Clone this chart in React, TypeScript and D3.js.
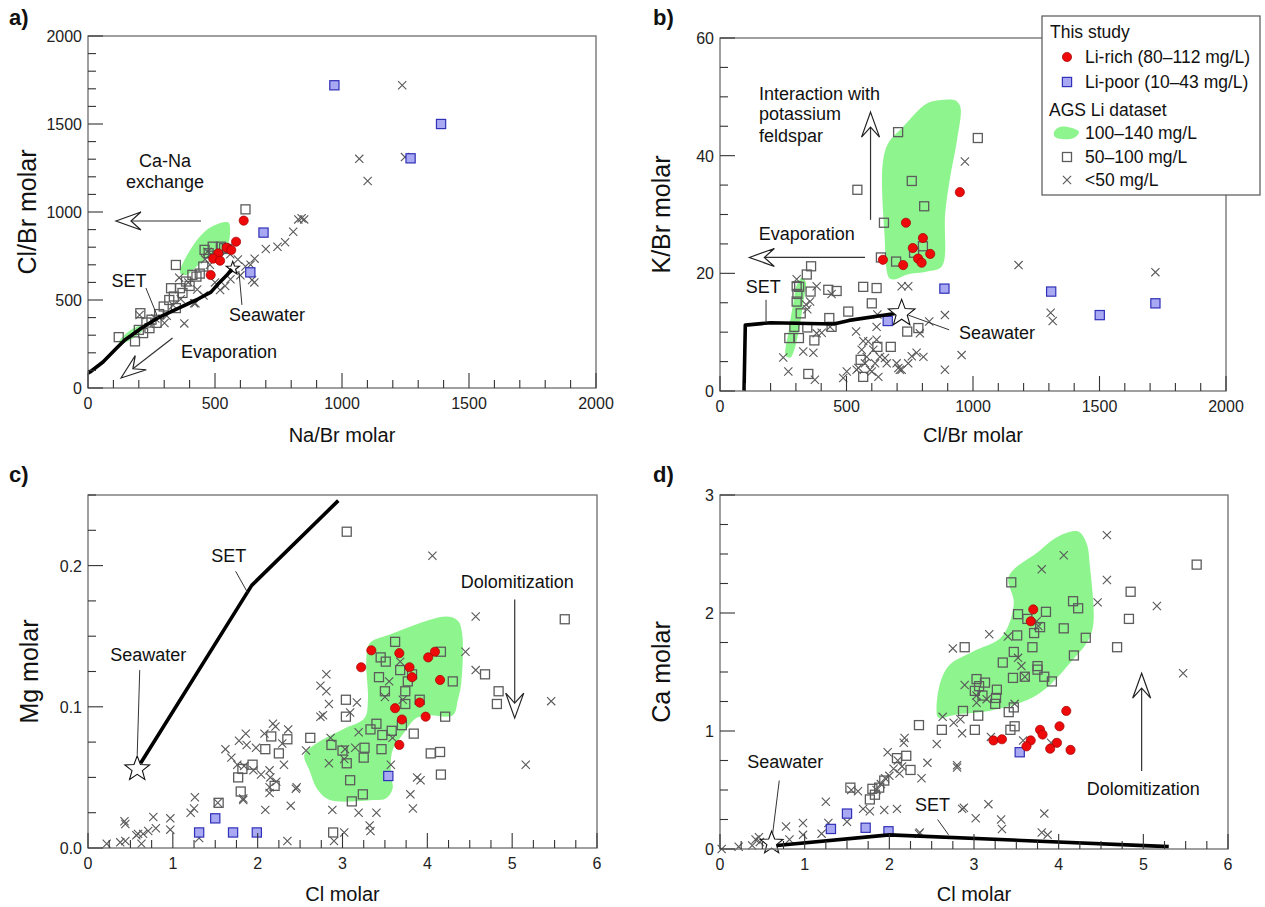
import * as d3 from 'd3';

type P = [number, number];

const FONT = '"Liberation Sans", Arial, Helvetica, sans-serif';
const GREEN = '#8ef58e';

// ---------- a) Na/Br vs Cl/Br (molar)
const aLiRich: P[] = [[613, 951], [583, 831], [546, 797], [564, 784], [513, 765], [493, 735], [520, 723], [483, 642]];
const aLiPoor: P[] = [[970, 1720], [1390, 1500], [1270, 1305], [691, 883], [639, 657]];
const aMid: P[] = [[620, 1015], [346, 699], [454, 690], [523, 803], [536, 794], [547, 790], [411, 643], [386, 605], [427, 633], [327, 567], [362, 567], [338, 520], [298, 463], [346, 454], [206, 425], [250, 388], [242, 340], [217, 312], [185, 265], [121, 289], [459, 785], [475, 766], [491, 803], [440, 650], [400, 580], [372, 540], [320, 500], [280, 420], [230, 372], [200, 330], [270, 370]];
const aLow: P[] = [[1237, 1720], [1068, 1302], [1248, 1312], [1101, 1176], [828, 958], [841, 964], [851, 958], [808, 888], [776, 828], [746, 803], [700, 790], [656, 735], [646, 614], [655, 600], [561, 618], [520, 557], [540, 580], [418, 481], [379, 367], [301, 369], [203, 415], [470, 774], [461, 731], [485, 760], [359, 627], [395, 600], [423, 482], [455, 525], [500, 600], [600, 640], [620, 690], [640, 700], [590, 730], [310, 410], [265, 395], [335, 470], [365, 505], [430, 560], [480, 700], [520, 740], [560, 760]];
const aBlobs: P[][] = [
  [[363, 653], [395, 767], [467, 898], [539, 943], [555, 938], [551, 812], [523, 767], [475, 744], [426, 688], [387, 642]],
  [[121, 261], [168, 330], [209, 352], [215, 330], [185, 290], [137, 256]],
];
const aSET: P[] = [[0, 85], [8, 91], [59, 148], [113, 227], [145, 273], [211, 341], [281, 403], [359, 455], [426, 500], [484, 545], [516, 597], [547, 642], [566, 676]];
const aSeawater: P = [570, 680];

// ---------- b) Cl/Br vs K/Br (molar)
const bLiRich: P[] = [[948, 33.8], [735, 28.6], [802, 26.0], [762, 24.3], [831, 23.3], [644, 22.3], [783, 22.5], [797, 21.8], [724, 21.4]];
const bLiPoor: P[] = [[887, 17.4], [1309, 16.9], [1721, 14.9], [1501, 12.9], [663, 11.9]];
const bMid: P[] = [[704, 44.0], [1019, 43.0], [543, 34.2], [758, 35.7], [807, 31.4], [648, 28.6], [636, 22.7], [696, 22.0], [802, 24.6], [767, 23.5], [360, 21.2], [343, 19.8], [303, 17.8], [313, 17.7], [306, 16.5], [358, 16.9], [428, 17.2], [461, 17.0], [566, 17.7], [619, 17.5], [600, 14.9], [507, 13.5], [432, 12.4], [303, 15.2], [319, 13.2], [294, 10.9], [345, 10.8], [441, 10.9], [274, 9.0], [312, 9.0], [373, 8.6], [740, 10.1], [784, 10.7], [622, 7.5], [675, 7.5], [556, 5.3], [566, 2.4], [349, 2.9]];
const bLow: P[] = [[968, 39.0], [1180, 21.4], [1721, 20.2], [1307, 13.3], [1315, 11.9], [889, 12.9], [955, 6.1], [889, 3.6], [382, 17.8], [441, 16.5], [303, 19.0], [356, 15.2], [345, 13.9], [340, 14.7], [718, 17.8], [744, 17.8], [827, 11.8], [790, 9.8], [538, 10.1], [402, 9.9], [382, 9.8], [435, 10.9], [619, 10.9], [622, 13.0], [250, 5.7], [270, 3.3], [329, 6.7], [369, 6.5], [375, 1.9], [487, 2.2], [501, 3.3], [560, 7.0], [573, 4.7], [593, 3.6], [613, 4.7], [632, 5.8], [659, 4.7], [606, 7.0], [586, 8.4], [619, 8.7], [626, 2.4], [540, 3.6], [547, 3.9], [580, 5.8], [600, 3.3], [652, 5.6], [698, 4.7], [711, 3.6], [718, 3.6], [705, 3.9], [744, 4.7], [758, 5.9], [777, 6.5], [804, 5.8], [566, 8.5]];
const bBlobs: P[][] = [
  [[260, 6.0], [272, 10.3], [290, 15.0], [305, 18.2], [325, 19.3], [340, 18.4], [330, 15.2], [315, 11.0], [295, 7.2], [278, 5.7]],
  [[669, 19.2], [650, 26.8], [643, 38.6], [665, 42.1], [724, 44.9], [819, 48.9], [890, 49.5], [929, 49.4], [950, 48.3], [937, 42.7], [910, 36.4], [890, 30.2], [877, 21.2], [819, 20.3], [740, 19.8], [693, 19.0]],
];
const bSET: P[] = [[95, 0], [100, 11.2], [200, 11.6], [450, 11.4], [510, 12.0], [700, 13.2]];
const bSeawater: P = [718, 13.2];

// ---------- c) Cl vs Mg (molar)
const cLiRich: P[] = [[3.34, 0.140], [3.67, 0.138], [4.09, 0.139], [4.01, 0.135], [3.22, 0.128], [3.79, 0.128], [3.82, 0.121], [4.15, 0.119], [3.62, 0.099], [3.91, 0.103], [3.70, 0.091], [3.98, 0.093], [3.67, 0.073]];
const cLiPoor: P[] = [[1.31, 0.011], [1.50, 0.021], [1.71, 0.011], [1.99, 0.011], [3.54, 0.051]];
const cMid: P[] = [[3.62, 0.146], [3.45, 0.135], [3.51, 0.132], [4.16, 0.139], [3.68, 0.126], [3.82, 0.123], [4.30, 0.118], [3.43, 0.121], [3.77, 0.118], [3.50, 0.111], [3.74, 0.111], [3.74, 0.102], [3.91, 0.105], [3.04, 0.105], [3.04, 0.093], [4.21, 0.093], [3.40, 0.088], [3.33, 0.084], [3.70, 0.087], [3.84, 0.081], [3.58, 0.083], [3.47, 0.080], [2.62, 0.078], [2.87, 0.073], [3.00, 0.069], [3.26, 0.071], [3.46, 0.070], [3.05, 0.060], [3.25, 0.064], [4.04, 0.067], [4.15, 0.068], [4.16, 0.052], [3.09, 0.048], [3.24, 0.038], [3.11, 0.033], [3.05, 0.224], [5.62, 0.162], [4.68, 0.123], [4.84, 0.111], [4.82, 0.102], [2.89, 0.011], [2.16, 0.079], [2.35, 0.077], [2.09, 0.070], [2.25, 0.067], [1.94, 0.059], [1.82, 0.056], [1.77, 0.050], [1.80, 0.040], [2.20, 0.044], [1.54, 0.032]];
const cLow: P[] = [[2.74, 0.115], [2.74, 0.093], [2.57, 0.069], [2.18, 0.088], [2.21, 0.086], [2.36, 0.084], [2.08, 0.081], [1.86, 0.081], [1.78, 0.076], [1.87, 0.073], [1.62, 0.070], [1.69, 0.064], [1.98, 0.071], [2.29, 0.074], [1.76, 0.059], [1.84, 0.058], [1.95, 0.055], [2.04, 0.052], [2.14, 0.055], [2.15, 0.050], [2.31, 0.059], [2.14, 0.043], [2.14, 0.039], [2.22, 0.047], [2.45, 0.042], [2.39, 0.030], [2.09, 0.027], [1.83, 0.034], [1.26, 0.036], [1.25, 0.028], [1.21, 0.025], [1.53, 0.032], [0.77, 0.022], [0.97, 0.021], [0.97, 0.013], [0.80, 0.014], [0.71, 0.012], [0.65, 0.010], [0.59, 0.010], [0.57, 0.009], [0.63, 0.003], [0.43, 0.019], [0.44, 0.017], [0.38, 0.004], [0.44, 0.005], [0.22, 0.003], [1.31, 0.007], [2.35, 0.005], [4.06, 0.207], [4.57, 0.164], [4.45, 0.139], [4.57, 0.126], [5.46, 0.104], [5.16, 0.059], [2.81, 0.123], [2.81, 0.111], [2.84, 0.102], [2.77, 0.094], [3.09, 0.096], [3.17, 0.103], [3.19, 0.082], [2.86, 0.078], [2.84, 0.060], [3.02, 0.063], [3.15, 0.071], [3.03, 0.070], [3.55, 0.118], [3.50, 0.107], [3.68, 0.132], [3.71, 0.105], [3.57, 0.059], [3.59, 0.078], [2.88, 0.027], [3.19, 0.025], [3.40, 0.025], [3.32, 0.016], [3.33, 0.012], [3.02, 0.011], [2.90, 0.005], [3.80, 0.038], [3.83, 0.028], [3.88, 0.050], [3.92, 0.048], [2.46, 0.043], [1.83, 0.035]];
const cBlob: P[] = [[2.55, 0.066], [2.69, 0.074], [3.00, 0.084], [3.26, 0.092], [3.30, 0.105], [3.28, 0.133], [3.32, 0.145], [3.55, 0.151], [4.22, 0.164], [4.36, 0.161], [4.41, 0.152], [4.40, 0.117], [4.36, 0.105], [4.30, 0.094], [4.02, 0.094], [3.87, 0.092], [3.73, 0.082], [3.59, 0.069], [3.57, 0.053], [3.59, 0.042], [3.51, 0.035], [3.36, 0.034], [2.85, 0.034], [2.71, 0.041], [2.61, 0.055]];
const cSET: P[] = [[0.62, 0.060], [1.93, 0.186], [2.95, 0.246]];
const cSeawater: P = [0.58, 0.056];

// ---------- d) Cl vs Ca (molar)
const dLiRich: P[] = [[3.70, 2.03], [3.67, 1.93], [4.09, 1.17], [3.78, 1.01], [3.81, 0.97], [4.01, 1.04], [3.98, 0.90], [3.90, 0.85], [4.14, 0.84], [3.23, 0.92], [3.33, 0.93], [3.67, 0.92], [3.62, 0.87]];
const dLiPoor: P[] = [[1.31, 0.17], [1.50, 0.30], [1.72, 0.18], [1.99, 0.15], [3.54, 0.82]];
const dMid: P[] = [[3.44, 2.26], [5.63, 2.41], [4.85, 2.18], [4.83, 1.95], [4.69, 1.71], [4.17, 2.10], [4.23, 2.04], [3.85, 2.01], [3.52, 1.99], [3.63, 1.95], [3.78, 1.88], [3.71, 1.83], [3.51, 1.81], [4.06, 1.87], [4.32, 1.79], [3.69, 1.71], [3.47, 1.67], [3.34, 1.58], [3.75, 1.55], [3.75, 1.52], [4.18, 1.64], [3.60, 1.46], [3.46, 1.45], [3.83, 1.46], [3.92, 1.42], [2.89, 1.71], [3.03, 1.44], [3.13, 1.41], [3.06, 1.38], [3.01, 1.34], [3.27, 1.35], [3.10, 1.30], [3.26, 1.28], [3.25, 1.23], [3.47, 1.20], [3.41, 1.16], [2.87, 1.17], [3.05, 1.13], [3.48, 1.04], [3.43, 1.01], [3.01, 1.01], [2.62, 1.01], [2.35, 1.05], [2.20, 0.79], [2.09, 0.77], [2.25, 0.67], [1.94, 0.58], [1.88, 0.52], [1.80, 0.51], [1.83, 0.46], [1.77, 0.42], [1.54, 0.52]];
const dLow: P[] = [[4.57, 2.66], [4.06, 2.49], [3.80, 2.37], [4.57, 2.28], [4.46, 2.09], [5.16, 2.06], [5.47, 1.49], [3.18, 1.82], [3.40, 1.80], [2.75, 1.70], [2.89, 1.39], [3.52, 1.62], [3.56, 1.55], [3.60, 1.46], [3.74, 1.93], [3.76, 1.89], [3.03, 1.30], [3.03, 1.24], [3.15, 1.27], [3.48, 1.23], [2.63, 1.12], [2.84, 1.10], [2.76, 1.07], [2.86, 0.98], [3.20, 0.95], [2.56, 0.89], [3.58, 0.92], [3.91, 0.90], [3.17, 0.38], [2.88, 0.35], [3.02, 0.26], [3.32, 0.25], [3.33, 0.17], [3.83, 0.30], [3.80, 0.14], [3.87, 0.12], [2.36, 0.14], [2.18, 0.94], [2.17, 0.90], [1.98, 0.82], [2.45, 0.73], [2.38, 0.60], [2.80, 0.71], [2.80, 0.69], [2.10, 0.75], [2.05, 0.68], [2.12, 0.64], [2.00, 0.62], [1.95, 0.60], [2.15, 0.70], [1.90, 0.55], [1.85, 0.50], [1.63, 0.49], [1.55, 0.50], [1.69, 0.34], [1.77, 0.32], [1.94, 0.33], [2.09, 0.34], [1.25, 0.40], [1.50, 0.23], [1.28, 0.22], [0.98, 0.22], [0.78, 0.19], [0.98, 0.12], [0.82, 0.08], [1.20, 0.13], [2.35, 0.13], [2.86, 0.34], [0.46, 0.10], [0.42, 0.08], [0.38, 0.03], [0.47, 0.06], [0.22, 0.02], [0.02, 0.0]];
const dBlob: P[] = [[2.57, 1.12], [2.59, 1.38], [2.71, 1.56], [2.98, 1.67], [3.33, 1.80], [3.47, 2.08], [3.41, 2.31], [3.76, 2.52], [4.00, 2.65], [4.23, 2.69], [4.33, 2.59], [4.37, 2.39], [4.41, 1.91], [4.35, 1.77], [4.15, 1.59], [3.88, 1.38], [3.68, 1.28], [3.41, 1.21], [3.10, 1.16], [2.79, 1.14], [2.61, 1.11]];
const dSET: P[] = [[0.67, 0.03], [2.0, 0.12], [5.3, 0.02]];
const dSeawater: P = [0.61, 0.05];

type S = { x: d3.ScaleLinear<number, number>; y: d3.ScaleLinear<number, number> };

function scales(l: number, r: number, t: number, b: number, xd: P, yd: P): S {
  return { x: d3.scaleLinear().domain(xd).range([l, r]), y: d3.scaleLinear().domain(yd).range([b, t]) };
}

function Frame({ s, xMinor, xMajor, yMinor, yMajor, xFmt, yFmt }: any) {
  const [l, r] = s.x.range();
  const [b, t] = s.y.range();
  const [x0, x1] = s.x.domain();
  const [y0, y1] = s.y.domain();
  const maj = (v: number, m: number) => Math.abs(v / m - Math.round(v / m)) < 1e-6;
  const xs = d3.range(x0, x1 + xMinor / 2, xMinor);
  const ys = d3.range(y0, y1 + yMinor / 2, yMinor);
  return (
    <g fontFamily={FONT}>
      <rect x={l} y={t} width={r - l} height={b - t} fill="none" stroke="#777" strokeWidth={1.4} />
      {xs.map((v, i) => (
        <line key={'xt' + i} x1={s.x(v)} x2={s.x(v)} y1={b} y2={b - (maj(v, xMajor) ? 15 : 8)} stroke="#333" strokeWidth={1.1} />
      ))}
      {ys.map((v, i) => (
        <line key={'yt' + i} y1={s.y(v)} y2={s.y(v)} x1={l} x2={l + (maj(v, yMajor) ? 15 : 8)} stroke="#333" strokeWidth={1.1} />
      ))}
      {xs.filter((v) => maj(v, xMajor)).map((v, i) => (
        <text key={'xl' + i} x={s.x(v)} y={b + 21} fontSize={16} textAnchor="middle" fill="#222">{xFmt(v)}</text>
      ))}
      {ys.filter((v) => maj(v, yMajor)).map((v, i) => (
        <text key={'yl' + i} x={l - 6} y={s.y(v) + 6} fontSize={16} textAnchor="end" fill="#222">{yFmt(v)}</text>
      ))}
    </g>
  );
}

function starPath(cx: number, cy: number, R: number, r: number) {
  const pts = d3.range(10).map((i) => {
    const a = -Math.PI / 2 + (i * Math.PI) / 5;
    const rad = i % 2 === 0 ? R : r;
    return [cx + rad * Math.cos(a), cy + rad * Math.sin(a)];
  });
  return 'M' + pts.map((p) => p.join(',')).join('L') + 'Z';
}

function xPath(cx: number, cy: number, h: number) {
  return `M${cx - h},${cy - h}L${cx + h},${cy + h}M${cx - h},${cy + h}L${cx + h},${cy - h}`;
}

function Points({ s, low, mid, poor, rich }: { s: S; low: P[]; mid: P[]; poor: P[]; rich: P[] }) {
  return (
    <g>
      {mid.map((d, i) => (
        <rect key={'m' + i} x={s.x(d[0]) - 4.5} y={s.y(d[1]) - 4.5} width={9} height={9} fill="none" stroke="#5c5c5c" strokeWidth={1.3} />
      ))}
      {low.map((d, i) => (
        <path key={'l' + i} d={xPath(s.x(d[0]), s.y(d[1]), 4.1)} stroke="#585858" strokeWidth={1.1} fill="none" />
      ))}
      {poor.map((d, i) => (
        <rect key={'p' + i} x={s.x(d[0]) - 4.6} y={s.y(d[1]) - 4.6} width={9.2} height={9.2} fill="#a9a9f3" stroke="#3030b8" strokeWidth={1.2} />
      ))}
      {rich.map((d, i) => (
        <circle key={'r' + i} cx={s.x(d[0])} cy={s.y(d[1])} r={4.6} fill="#ee0a0a" stroke="#a00000" strokeWidth={0.7} />
      ))}
    </g>
  );
}

function Blobs({ s, blobs }: { s: S; blobs: P[][] }) {
  const gen = d3.line<P>().x((d) => s.x(d[0])).y((d) => s.y(d[1])).curve(d3.curveCatmullRomClosed.alpha(0.5));
  return <g>{blobs.map((b, i) => <path key={i} d={gen(b) || ''} fill={GREEN} stroke="none" />)}</g>;
}

function SETLine({ s, pts }: { s: S; pts: P[] }) {
  const gen = d3.line<P>().x((d) => s.x(d[0])).y((d) => s.y(d[1]));
  return <path d={gen(pts) || ''} fill="none" stroke="#000" strokeWidth={3.6} strokeLinejoin="round" />;
}

function OpenArrow({ s, from, to }: { s: S; from: P; to: P }) {
  const x1 = s.x(from[0]), y1 = s.y(from[1]), x2 = s.x(to[0]), y2 = s.y(to[1]);
  const a = Math.atan2(y2 - y1, x2 - x1);
  const ux = Math.cos(a), uy = Math.sin(a), px = -uy, py = ux;
  const L = 25, W = 9, N = 15;
  const bx = x2 - ux * L, by = y2 - uy * L, nx = x2 - ux * N, ny = y2 - uy * N;
  const d = `M${x2},${y2}L${bx + px * W},${by + py * W}L${nx},${ny}L${bx - px * W},${by - py * W}Z`;
  return (
    <g>
      <line x1={x1} y1={y1} x2={nx} y2={ny} stroke="#333" strokeWidth={1.2} />
      <path d={d} fill="#fff" stroke="#222" strokeWidth={1.2} strokeLinejoin="miter" />
    </g>
  );
}

function Leader({ s, from, to }: { s: S; from: P; to: P }) {
  return <line x1={s.x(from[0])} y1={s.y(from[1])} x2={s.x(to[0])} y2={s.y(to[1])} stroke="#333" strokeWidth={1} />;
}

function Label({ s, at, text, anchor = 'middle', size = 18 }: { s: S; at: P; text: string; anchor?: string; size?: number }) {
  return (
    <text x={s.x(at[0])} y={s.y(at[1]) + size * 0.36} fontSize={size} textAnchor={anchor} fontFamily={FONT} fill="#111">
      {text}
    </text>
  );
}

function Star({ s, at, R }: { s: S; at: P; R: number }) {
  return <path d={starPath(s.x(at[0]), s.y(at[1]), R, R * 0.42)} fill="#fff" stroke="#111" strokeWidth={1.1} />;
}

function Titles({ s, xTitle, yTitle, yTitleX, xTitleY, tag, tagX, tagY }: any) {
  const [l, r] = s.x.range();
  const [b, t] = s.y.range();
  const my = (b + t) / 2;
  return (
    <g fontFamily={FONT} fill="#111">
      <text x={(l + r) / 2} y={xTitleY} fontSize={20} textAnchor="middle">{xTitle}</text>
      <text transform={`translate(${yTitleX},${my}) rotate(-90)`} fontSize={25} textAnchor="middle">{yTitle}</text>
      <text x={tagX} y={tagY} fontSize={22} fontWeight="bold">{tag}</text>
    </g>
  );
}

function Legend() {
  const lx = 1042, ly = 16;
  const blob = d3.line<P>().curve(d3.curveCatmullRomClosed.alpha(0.5));
  const bp: P[] = [[1054, 132], [1060, 127], [1072, 128], [1079, 132], [1074, 138], [1062, 139], [1055, 137]];
  const ts = 17.5;
  return (
    <g fontFamily={FONT} fontSize={ts} fill="#111">
      <rect x={lx} y={ly} width={218} height={179} fill="#fff" stroke="#555" strokeWidth={1.2} />
      <text x={1050} y={38}>This study</text>
      <circle cx={1067} cy={57} r={4.6} fill="#ee0a0a" stroke="#a00000" strokeWidth={0.7} />
      <text x={1085} y={63}>Li-rich (80–112 mg/L)</text>
      <rect x={1062.4} y={77.4} width={9.2} height={9.2} fill="#a9a9f3" stroke="#3030b8" strokeWidth={1.2} />
      <text x={1085} y={88}>Li-poor (10–43 mg/L)</text>
      <text x={1049} y={116}>AGS Li dataset</text>
      <path d={blob(bp) || ''} fill={GREEN} />
      <text x={1085} y={139}>100–140 mg/L</text>
      <rect x={1062.5} y={152.5} width={9} height={9} fill="none" stroke="#5c5c5c" strokeWidth={1.3} />
      <text x={1085} y={163}>50–100 mg/L</text>
      <path d={xPath(1067, 180, 4.1)} stroke="#585858" strokeWidth={1.1} />
      <text x={1085} y={186}>&lt;50 mg/L</text>
    </g>
  );
}

export default function App() {
  const sa = scales(88, 596, 36, 388, [0, 2000], [0, 2000]);
  const sb = scales(720, 1226, 38, 391, [0, 2000], [0, 60]);
  const sc = scales(88, 597, 495, 848, [0, 6], [0, 0.25]);
  const sd = scales(720, 1228, 495, 849, [0, 6], [0, 3]);
  const fInt = d3.format('d');
  const f1 = d3.format('.1f');

  return (
    <svg width={1265} height={907} style={{ position: 'absolute', left: 0, top: 0, background: '#fff' }}>
      {/* a */}
      <Blobs s={sa} blobs={aBlobs} />
      <Points s={sa} low={aLow} mid={aMid} poor={aLiPoor} rich={aLiRich} />
      <Star s={sa} at={aSeawater} R={7} />
      <SETLine s={sa} pts={aSET} />
      <Frame s={sa} xMinor={100} xMajor={500} yMinor={100} yMajor={500} xFmt={fInt} yFmt={fInt} />
      <Label s={sa} at={[303, 1295]} text="Ca-Na" />
      <Label s={sa} at={[303, 1176]} text="exchange" />
      <OpenArrow s={sa} from={[445, 949]} to={[110, 949]} />
      <Label s={sa} at={[161, 608]} text="SET" />
      <Leader s={sa} from={[228, 568]} to={[276, 398]} />
      <Label s={sa} at={[705, 415]} text="Seawater" />
      <Leader s={sa} from={[606, 472]} to={[594, 665]} />
      <Label s={sa} at={[555, 205]} text="Evaporation" />
      <OpenArrow s={sa} from={[333, 284]} to={[130, 57]} />
      <Titles s={sa} xTitle="Na/Br molar" yTitle="Cl/Br molar" yTitleX={36} xTitleY={442} tag="a)" tagX={9} tagY={25} />

      {/* b */}
      <Blobs s={sb} blobs={bBlobs} />
      <Points s={sb} low={bLow} mid={bMid} poor={bLiPoor} rich={bLiRich} />
      <SETLine s={sb} pts={bSET} />
      <Star s={sb} at={bSeawater} R={14} />
      <Frame s={sb} xMinor={100} xMajor={500} yMinor={5} yMajor={20} xFmt={fInt} yFmt={fInt} />
      <Label s={sb} at={[154, 50.5]} text="Interaction with" anchor="start" />
      <Label s={sb} at={[154, 47.1]} text="potassium" anchor="start" />
      <Label s={sb} at={[154, 43.5]} text="feldspar" anchor="start" />
      <OpenArrow s={sb} from={[595, 29.1]} to={[595, 47.4]} />
      <Label s={sb} at={[343, 26.8]} text="Evaporation" />
      <OpenArrow s={sb} from={[573, 22.7]} to={[116, 22.7]} />
      <Label s={sb} at={[171, 17.8]} text="SET" />
      <Leader s={sb} from={[182, 15.5]} to={[182, 11.6]} />
      <Label s={sb} at={[1095, 10.0]} text="Seawater" />
      <Leader s={sb} from={[744, 12.9]} to={[906, 10.4]} />
      <Titles s={sb} xTitle="Cl/Br molar" yTitle="K/Br molar" yTitleX={670} xTitleY={442} tag="b)" tagX={653} tagY={25} />
      <Legend />

      {/* c */}
      <Blobs s={sc} blobs={[cBlob]} />
      <Points s={sc} low={cLow} mid={cMid} poor={cLiPoor} rich={cLiRich} />
      <SETLine s={sc} pts={cSET} />
      <Star s={sc} at={cSeawater} R={13} />
      <Frame s={sc} xMinor={0.25} xMajor={1} yMinor={0.025} yMajor={0.1} xFmt={fInt} yFmt={f1} />
      <Label s={sc} at={[1.66, 0.207]} text="SET" />
      <Leader s={sc} from={[1.74, 0.196]} to={[1.88, 0.181]} />
      <Label s={sc} at={[0.71, 0.137]} text="Seawater" />
      <Leader s={sc} from={[0.61, 0.126]} to={[0.58, 0.066]} />
      <Label s={sc} at={[5.06, 0.189]} text="Dolomitization" />
      <OpenArrow s={sc} from={[5.03, 0.176]} to={[5.03, 0.092]} />
      <Titles s={sc} xTitle="Cl molar" yTitle="Mg molar" yTitleX={38} xTitleY={901} tag="c)" tagX={9} tagY={482} />

      {/* d */}
      <Blobs s={sd} blobs={[dBlob]} />
      <Points s={sd} low={dLow} mid={dMid} poor={dLiPoor} rich={dLiRich} />
      <SETLine s={sd} pts={dSET} />
      <Star s={sd} at={dSeawater} R={12} />
      <Frame s={sd} xMinor={0.25} xMajor={1} yMinor={0.25} yMajor={1} xFmt={fInt} yFmt={fInt} />
      <Label s={sd} at={[0.77, 0.74]} text="Seawater" />
      <Leader s={sd} from={[0.70, 0.58]} to={[0.62, 0.12]} />
      <Label s={sd} at={[2.51, 0.38]} text="SET" />
      <Leader s={sd} from={[2.57, 0.25]} to={[2.70, 0.12]} />
      <Label s={sd} at={[5.0, 0.51]} text="Dolomitization" />
      <OpenArrow s={sd} from={[4.98, 0.66]} to={[4.98, 1.49]} />
      <Titles s={sd} xTitle="Cl molar" yTitle="Ca molar" yTitleX={670} xTitleY={901} tag="d)" tagX={653} tagY={482} />
    </svg>
  );
}
